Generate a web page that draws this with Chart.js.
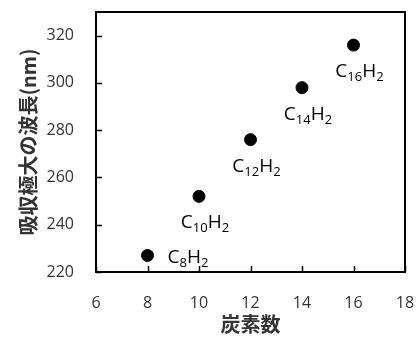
<!DOCTYPE html>
<html>
<head>
<meta charset="utf-8">
<script src="https://cdn.jsdelivr.net/npm/chart.js@4"></script>
<style>
  html, body { margin: 0; padding: 0; background: #fff; }
</style>
</head>
<body>
<canvas id="chart" width="420" height="340"></canvas>
<script>
  'use strict';

  // carbon number and absorption maximum (nm)
  const carbons     = [8, 10, 12, 14, 16];
  const wavelengths = [227, 252, 276, 298, 316];
  const xTicks      = [6, 8, 10, 12, 14, 16, 18];
  const yTicks      = [220, 240, 260, 280, 300, 320];

  const tickFont  = { family: "'Open Sans', 'Noto Sans', sans-serif", size: 16 };
  const titleFont = { family: "'Noto Sans CJK JP', sans-serif", size: 20, weight: 'bold' };

  // box around plot + inward tick marks
  const framePlugin = {
    id: 'frame',
    afterDraw(chart) {
      const ctx = chart.ctx
      const a = chart.chartArea
      const xs = chart.scales.x, ys = chart.scales.y
      ctx.save()
      ctx.strokeStyle = '#000'
      ctx.lineWidth = 2
      ctx.strokeRect(a.left, a.top, a.right - a.left, a.bottom - a.top)
      ctx.lineWidth = 1.5
      ctx.beginPath()
      xTicks.forEach(v => {
        const px = Math.round(xs.getPixelForValue(v)) + 0.5
        ctx.moveTo(px, a.bottom)
        ctx.lineTo(px, a.bottom - 6)
      })
      yTicks.forEach(v => {
        const py = Math.round(ys.getPixelForValue(v)) + 0.5
        ctx.moveTo(a.left, py)
        ctx.lineTo(a.left + 6, py)
      })
      ctx.stroke()
      ctx.restore()
    }
  }

  // C_nH_2 labels next to each point
  const labelPlugin = {
    id: 'formula',
    afterDatasetsDraw(chart) {
      const ctx = chart.ctx
      const meta = chart.getDatasetMeta(0)
      const main = "19px 'Open Sans', 'Noto Sans', sans-serif"
      const sub  = "13px 'Open Sans', 'Noto Sans', sans-serif"
      ctx.save()
      ctx.fillStyle = '#000'
      ctx.textBaseline = 'alphabetic'
      meta.data.forEach((pt, i) => {
        const parts = [['C', main, 0], [String(carbons[i]), sub, 4], ['H', main, 0], ['2', sub, 4]]
        let w = 0
        parts.forEach(p => { ctx.font = p[1]; w += ctx.measureText(p[0]).width })
        let x, y
        if (i === 0) {
          x = pt.x + 20
          y = pt.y + 8
        } else {
          x = pt.x + 6 - w / 2
          y = pt.y + 32
        }
        parts.forEach(p => {
          ctx.font = p[1]
          ctx.fillText(p[0], x, y + p[2])
          x += ctx.measureText(p[0]).width
        })
      })
      ctx.restore()
    }
  }

  new Chart(document.getElementById('chart'), {
    type: 'scatter',
    data: {
      datasets: [{
        data: carbons.map((c, i) => ({ x: c, y: wavelengths[i] })),
        backgroundColor: '#000',
        borderColor: '#000',
        pointRadius: 6,
        pointHoverRadius: 6
      }]
    },
    options: {
      responsive: false,
      animation: false,
      layout: { padding: { left: 0, right: 15, top: 12, bottom: 0 } },
      plugins: {
        legend: { display: false },
        tooltip: { enabled: false }
      },
      scales: {
        x: {
          type: 'linear',
          min: 6,
          max: 18,
          afterFit: s => { s.height = 68; s.paddingLeft = 0; s.paddingRight = 0 },
          afterBuildTicks: s => { s.ticks = xTicks.map(v => ({ value: v })) },
          grid: { display: false },
          border: { display: false },
          ticks: { font: tickFont, color: '#333', padding: 14, maxRotation: 0 },
          title: {
            display: true,
            text: '炭素数',
            font: titleFont,
            color: '#333',
            padding: { top: 4 }
          }
        },
        y: {
          min: 220,
          max: 330,
          afterFit: s => { s.width = 96; s.paddingTop = 0; s.paddingBottom = 0 },
          afterBuildTicks: s => { s.ticks = yTicks.map(v => ({ value: v })) },
          grid: { display: false },
          border: { display: false },
          ticks: { font: tickFont, color: '#333', padding: 14 },
          title: {
            display: true,
            text: '吸収極大の波長(nm)',
            font: titleFont,
            color: '#333',
            padding: { top: 16, bottom: 0 }
          }
        }
      }
    },
    plugins: [framePlugin, labelPlugin]
  })
</script>
</body>
</html>
